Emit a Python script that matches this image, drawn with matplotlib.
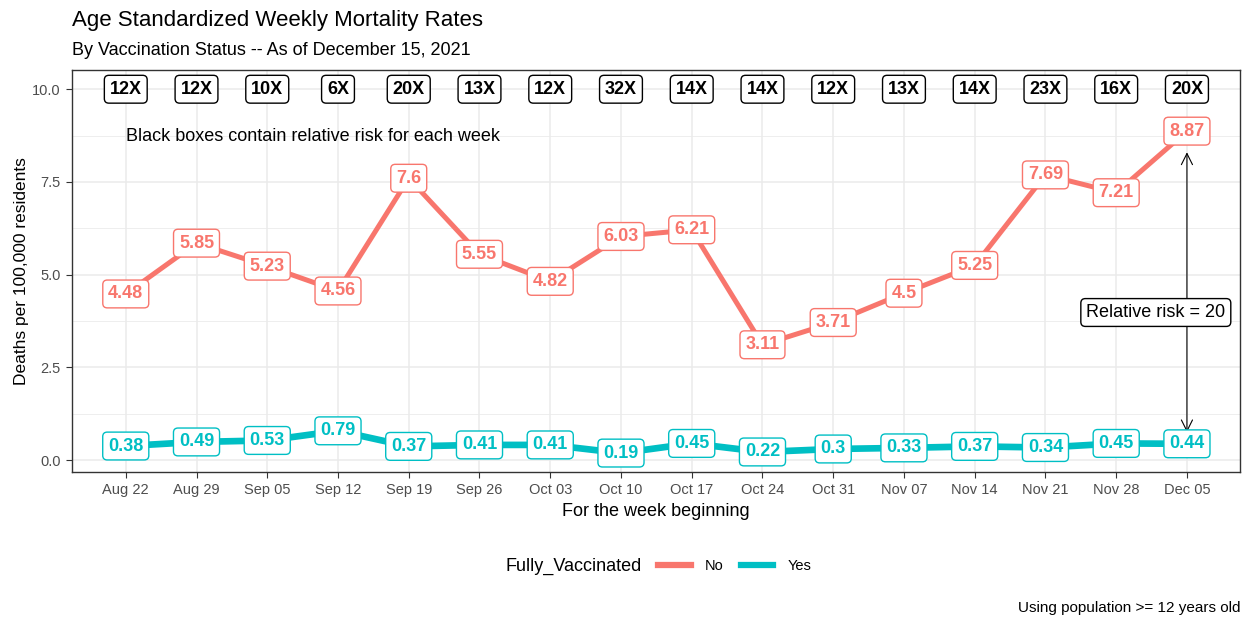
import matplotlib
matplotlib.use("Agg")
import matplotlib.pyplot as plt
from matplotlib.lines import Line2D
from matplotlib.offsetbox import HPacker

weeks = ["Aug 22", "Aug 29", "Sep 05", "Sep 12", "Sep 19", "Sep 26", "Oct 03", "Oct 10",
         "Oct 17", "Oct 24", "Oct 31", "Nov 07", "Nov 14", "Nov 21", "Nov 28", "Dec 05"]
rate_unvax = [4.48, 5.85, 5.23, 4.56, 7.6, 5.55, 4.82, 6.03, 6.21, 3.11, 3.71, 4.5, 5.25, 7.69, 7.21, 8.87]
rate_vax = [0.38, 0.49, 0.53, 0.79, 0.37, 0.41, 0.41, 0.19, 0.45, 0.22, 0.3, 0.33, 0.37, 0.34, 0.45, 0.44]
rel_risk = [12, 12, 10, 6, 20, 13, 12, 32, 14, 14, 12, 13, 14, 23, 16, 20]
last_rr = 20

RED = "#F8766D"
CYAN = "#00BFC4"
GRID = "#EBEBEB"
TICK = "#4D4D4D"

plt.rcParams["font.family"] = ["Liberation Sans", "DejaVu Sans"]

fig = plt.figure(figsize=(12.5, 6.19), dpi=100)
ax = fig.add_axes([0.0576, 0.2375, 0.9344, 0.6495])

x = list(range(len(weeks)))

ax.plot(x, rate_unvax, color=RED, lw=3.6, solid_capstyle="butt", zorder=3)
ax.plot(x, rate_vax, color=CYAN, lw=4.8, solid_capstyle="butt", zorder=3)


def fmt(v):
    return f"{v:.2f}".rstrip("0").rstrip(".")


def box(ec):
    return dict(boxstyle="round,pad=0.3,rounding_size=0.25", fc="white", ec=ec, lw=1)


for xi, v in zip(x, rate_unvax):
    ax.text(xi, v, fmt(v), color=RED, fontsize=13, fontweight="bold", ha="center", va="center",
            zorder=5, bbox=box(RED))
for xi, v in zip(x, rate_vax):
    ax.text(xi, v, fmt(v), color=CYAN, fontsize=13, fontweight="bold", ha="center", va="center",
            zorder=5, bbox=box(CYAN))
for xi, r in zip(x, rel_risk):
    ax.text(xi, 10, f"{r}X", color="black", fontsize=13, fontweight="bold", ha="center", va="center",
            zorder=5, bbox=box("black"))

ax.text(0, 8.72, "Black boxes contain relative risk for each week", fontsize=13, ha="left",
        va="center", color="black")

ax.annotate("", xy=(15, 0.75), xytext=(15, 8.3),
            arrowprops=dict(arrowstyle="<->,head_length=0.5,head_width=0.25", color="black", lw=0.8,
                            mutation_scale=16, shrinkA=0, shrinkB=0), zorder=4)
ax.text(14.56, 3.98, f"Relative risk = {last_rr}", fontsize=13, ha="center", va="center", zorder=6,
        bbox=dict(boxstyle="round,pad=0.3,rounding_size=0.25", fc="white", ec="black", lw=1))

ax.set_xlim(-0.76, 15.75)
ax.set_ylim(-0.32, 10.52)
ax.set_xticks(x)
ax.set_xticklabels(weeks)
ax.set_yticks([0, 2.5, 5, 7.5, 10])
ax.set_yticklabels(["0.0", "2.5", "5.0", "7.5", "10.0"])
ax.set_yticks([1.25, 3.75, 6.25, 8.75], minor=True)
ax.tick_params(axis="both", which="major", labelsize=10.5, colors="#333333", labelcolor=TICK,
               length=4, width=0.8, pad=4)
ax.tick_params(axis="y", which="minor", length=0)
ax.grid(True, which="major", color=GRID, lw=1.1, zorder=0)
ax.grid(True, which="minor", axis="y", color=GRID, lw=0.6, zorder=0)
ax.set_axisbelow(True)
for sp in ax.spines.values():
    sp.set_color("#333333")
    sp.set_linewidth(1)

ax.set_xlabel("For the week beginning", fontsize=13, labelpad=4)
ax.set_ylabel("Deaths per 100,000 residents", fontsize=12.5, labelpad=2)

fig.text(0.0576, 0.967, "Age Standardized Weekly Mortality Rates", fontsize=16, ha="left", va="center")
fig.text(0.0576, 0.918, "By Vaccination Status -- As of December 15, 2021", fontsize=13, ha="left", va="center")
fig.text(0.992, 0.017, "Using population >= 12 years old", fontsize=11, ha="right", va="center")

handles = [Line2D([], [], color=RED, lw=4.5), Line2D([], [], color=CYAN, lw=4.5)]
leg = fig.legend(handles, ["No", "Yes"], title="Fully_Vaccinated", loc="center",
                 bbox_to_anchor=(0.527, 0.085), ncol=2, frameon=False, fontsize=10.5,
                 title_fontsize=13, handlelength=2.2, columnspacing=1.2, handletextpad=1.0)
# put the legend title to the left of the entries, like ggplot's bottom legend
title_box = leg._legend_title_box
entries = leg._legend_handle_box
leg._legend_box._children = [HPacker(pad=0, sep=12, align="center", children=[title_box, entries])]

fig.savefig("out.png", dpi=100)
